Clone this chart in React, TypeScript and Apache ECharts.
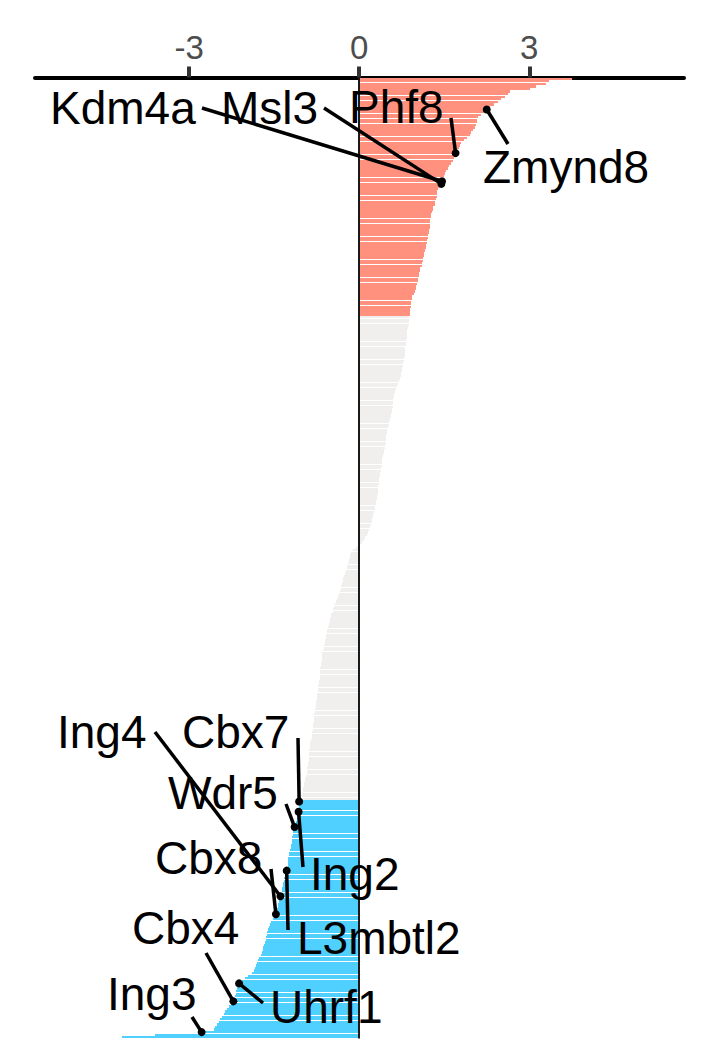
import React, { useEffect, useRef } from "react";
import * as echarts from "echarts";

// Ranked scores, top (up-regulated, red) group
const upValues = [
  3.76, 3.35, 3.29, 3.12, 3.02, 2.66, 2.62, 2.57, 2.5, 2.44,
  2.37, 2.31, 2.25, 2.2, 2.14, 2.09, 2.08, 2.07, 2.06, 2.04,
  2.01, 1.98, 1.95, 1.9, 1.85, 1.8, 1.78, 1.76, 1.73, 1.7,
  1.69, 1.67, 1.65, 1.62, 1.59, 1.56, 1.53, 1.51, 1.49, 1.47,
  1.46, 1.45, 1.42, 1.39, 1.38, 1.38, 1.37, 1.36, 1.34, 1.33,
  1.31, 1.3, 1.29, 1.27, 1.26, 1.25, 1.24, 1.24, 1.24, 1.23,
  1.23, 1.22, 1.21, 1.2, 1.19, 1.18, 1.17, 1.16, 1.15, 1.14,
  1.13, 1.12, 1.11, 1.1, 1.08, 1.07, 1.06, 1.05, 1.04, 1.03,
  1.02, 1.01, 1.0, 0.98, 0.96, 0.94, 0.93, 0.92, 0.92, 0.91,
  0.9, 0.9, 0.89,
];

// Middle (not significant, grey) group
const midValues = [
  0.88, 0.88, 0.87, 0.87, 0.86, 0.85, 0.85,
  0.84, 0.84, 0.83, 0.83, 0.82, 0.81, 0.81, 0.8, 0.8, 0.79,
  0.79, 0.78, 0.77, 0.76, 0.75, 0.74, 0.73, 0.72, 0.7, 0.68,
  0.66, 0.65, 0.64, 0.62, 0.61, 0.6, 0.6, 0.59, 0.59, 0.58,
  0.57, 0.56, 0.56, 0.55, 0.53, 0.52, 0.5, 0.49, 0.49, 0.48,
  0.48, 0.48, 0.47, 0.46, 0.45, 0.44, 0.43, 0.42, 0.41, 0.41,
  0.4, 0.4, 0.39, 0.38, 0.37, 0.36, 0.35, 0.35, 0.35, 0.34,
  0.34, 0.33, 0.33, 0.32, 0.31, 0.3, 0.29, 0.28, 0.27, 0.26,
  0.25, 0.24, 0.23, 0.22, 0.21, 0.19, 0.17, 0.15, 0.14, 0.11,
  0.08, 0.05, 0.02, -0.05, -0.11, -0.15, -0.16, -0.17, -0.18, -0.2,
  -0.21, -0.22, -0.24, -0.25, -0.26, -0.28, -0.29, -0.3, -0.32, -0.33,
  -0.34, -0.36, -0.37, -0.39, -0.41, -0.42, -0.44, -0.46, -0.47, -0.49,
  -0.5, -0.51, -0.52, -0.54, -0.55, -0.56, -0.57, -0.58, -0.59, -0.6,
  -0.61, -0.62, -0.63, -0.64, -0.65, -0.65, -0.66, -0.66, -0.67, -0.68,
  -0.69, -0.69, -0.7, -0.7, -0.7, -0.71, -0.71, -0.72, -0.72, -0.73,
  -0.74, -0.74, -0.75, -0.76, -0.77, -0.77, -0.78, -0.78, -0.79, -0.79,
  -0.79, -0.8, -0.81, -0.81, -0.82, -0.83, -0.84, -0.84, -0.85, -0.86,
  -0.87, -0.87, -0.88, -0.88, -0.89, -0.89, -0.89, -0.9, -0.91, -0.92,
  -0.92, -0.93, -0.94, -0.95, -0.96, -0.97, -0.98, -0.99, -1.0, -1.01,
  -1.02, -1.03,
];

// Bottom (down-regulated, blue) group
const downValues = [
  -1.06, -1.06, -1.06, -1.07, -1.07, -1.08, -1.09, -1.1,
  -1.11, -1.13, -1.14, -1.15, -1.16, -1.17, -1.18, -1.19, -1.19, -1.2,
  -1.21, -1.22, -1.23, -1.24, -1.25, -1.25, -1.26, -1.26, -1.27, -1.28,
  -1.29, -1.3, -1.32, -1.33, -1.34, -1.35, -1.36, -1.37, -1.38, -1.39,
  -1.4, -1.42, -1.43, -1.44, -1.45, -1.46, -1.47, -1.49, -1.52, -1.55,
  -1.57, -1.59, -1.61, -1.62, -1.63, -1.64, -1.64, -1.66, -1.68, -1.69,
  -1.7, -1.72, -1.74, -1.77, -1.78, -1.8, -1.82, -1.84, -1.86, -1.9,
  -1.96, -2.01, -2.06, -2.12, -2.14, -2.16, -2.17, -2.18, -2.19, -2.21,
  -2.22, -2.26, -2.3, -2.33, -2.36, -2.39, -2.42, -2.45, -2.48, -2.51,
  -2.54, -2.57, -2.78, -3.6, -4.19,
];

const tickValues = [-3, 0, 3];

// Labelled genes and their rank (0 = top bar)
const labelGenes = ["Kdm4a", "Msl3", "Phf8", "Zmynd8", "Ing4", "Cbx7", "Wdr5", "Cbx8", "Ing2", "L3mbtl2", "Cbx4", "Uhrf1", "Ing3"];
const labelRanks = [40, 41, 29, 12, 319, 282, 292, 326, 286, 309, 360, 353, 372];

// Layout only: [textX, textY, segmentStartX, segmentStartY] in pixels
const LABEL_LAYOUT = [
  [50, 108, 202, 108],
  [221, 108, 324, 108],
  [349, 107, 451, 118],
  [483, 167, 508, 144],
  [57, 732, 155, 732],
  [182, 732, 298, 738],
  [168, 793, 286, 804],
  [155, 858, 271, 869],
  [310, 874, 303, 867],
  [297, 938, 288, 930],
  [132, 928, 206, 953],
  [270, 1007, 263, 1003],
  [107, 994, 192, 1017],
];

const RED = "#FF917E";
const GREY = "#F0EFED";
const BLUE = "#4FD0FF";
const FONT = "'Liberation Sans', Arial, sans-serif";

function toRgb(hex: string) {
  const n = parseInt(hex.slice(1), 16);
  return `rgb(${(n >> 16) & 255}, ${(n >> 8) & 255}, ${n & 255})`;
}

export default function App() {
  const ref = useRef<HTMLDivElement>(null);

  useEffect(() => {
    if (!ref.current) return;
    const chart = echarts.init(ref.current, null, { renderer: "svg" });
    const values = [...upValues, ...midValues, ...downValues];
    const categories = values.map((_, i) => "g" + (i + 1));
    const nUp = upValues.length;
    const nMid = midValues.length;

    chart.setOption({
      animation: false,
      backgroundColor: "#ffffff",
      grid: { left: 35, right: 24, top: 77.5, bottom: 23.5, containLabel: false },
      xAxis: {
        type: "value",
        position: "top",
        min: -5.72,
        max: 5.73,
        splitLine: { show: false },
        axisLine: { show: true, onZero: false, lineStyle: { color: "#000", width: 4 } },
        axisTick: { show: true, customValues: tickValues, length: 11, lineStyle: { color: "#333", width: 4 } },
        axisLabel: {
          show: true,
          customValues: tickValues,
          fontSize: 33,
          fontFamily: FONT,
          color: "#4d4d4d",
          margin: 14,
        },
      },
      yAxis: {
        type: "category",
        data: categories,
        inverse: true,
        show: false,
      },
      series: [
        {
          type: "bar",
          data: values.map((v, i) => ({
            value: v,
            itemStyle: { color: i < nUp ? RED : i < nUp + nMid ? GREY : BLUE },
          })),
          barCategoryGap: "10%",
          silent: true,
          markLine: {
            silent: true,
            symbol: "none",
            label: { show: false },
            lineStyle: { color: "#1a1a1a", width: 2, type: "solid" },
            data: [{ xAxis: 0 }],
            z: 5,
          },
        },
      ],
    });

    const graphics: any[] = [];
    labelGenes.forEach((g, k) => {
      const r = labelRanks[k];
      const p = chart.convertToPixel({ gridIndex: 0 }, [values[r], r]) as number[];
      const [tx, ty, lx, ly] = LABEL_LAYOUT[k];
      graphics.push({
        type: "line",
        shape: { x1: lx, y1: ly, x2: p[0], y2: p[1] },
        style: { stroke: "#000", lineWidth: 3.5 },
        z: 10,
        silent: true,
      });
      graphics.push({
        type: "circle",
        shape: { cx: p[0], cy: p[1], r: 4 },
        style: { fill: "#000" },
        z: 11,
        silent: true,
      });
      graphics.push({
        type: "text",
        x: tx,
        y: ty,
        style: {
          text: g,
          fontSize: 46,
          fontFamily: FONT,
          fill: "#000",
          textAlign: "left",
          textVerticalAlign: "middle",
          align: "left",
          verticalAlign: "middle",
        },
        z: 12,
        silent: true,
      });
    });
    chart.setOption({ graphic: graphics });

    // crisp bar edges, so the thin gaps between bars snap to whole pixels
    const barFills = [RED, GREY, BLUE].map(toRgb);
    const svg = ref.current.querySelector("svg");
    if (svg) {
      svg.querySelectorAll("path, rect").forEach((el) => {
        const f = getComputedStyle(el as Element).fill;
        if (barFills.includes(f)) (el as SVGElement).style.shapeRendering = "crispEdges";
      });
    }

    return () => chart.dispose();
  }, []);

  return (
    <div
      ref={ref}
      style={{ position: "fixed", left: 0, top: 0, width: 708, height: 1062, background: "#fff" }}
    />
  );
}
